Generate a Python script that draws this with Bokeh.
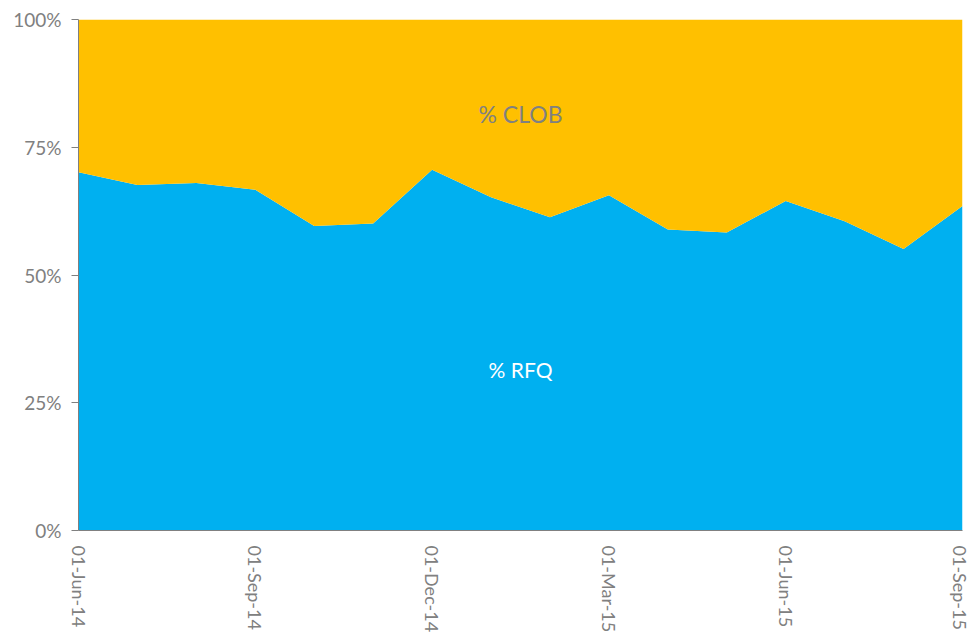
import math
from bokeh.plotting import figure
from bokeh.models import ColumnDataSource, FixedTicker, Range1d, PrintfTickFormatter, Label
from bokeh.embed import file_html
from bokeh.resources import INLINE

months = ["01-Jun-14", "01-Jul-14", "01-Aug-14", "01-Sep-14", "01-Oct-14", "01-Nov-14",
          "01-Dec-14", "01-Jan-15", "01-Feb-15", "01-Mar-15", "01-Apr-15", "01-May-15",
          "01-Jun-15", "01-Jul-15", "01-Aug-15", "01-Sep-15"]
rfq = [70.1, 67.6, 68.0, 66.7, 59.6, 60.1, 70.6, 65.2, 61.3, 65.6, 58.9, 58.3, 64.5, 60.5, 55.1, 63.5]
clob = [round(100 - v, 1) for v in rfq]
tick_labels = ["01-Jun-14", "01-Sep-14", "01-Dec-14", "01-Mar-15", "01-Jun-15", "01-Sep-15"]
y_ticks = [0, 25, 50, 75, 100]

idx = list(range(len(months)))
source = ColumnDataSource(dict(x=idx, rfq=rfq, clob=clob))

FONT = "Lato"
GRAY = "#808080"

p = figure(width=970, height=635, output_backend="svg", toolbar_location=None,
           x_range=Range1d(0, len(months) - 1), y_range=Range1d(0, 100),
           min_border_left=78, min_border_right=8, min_border_top=19, min_border_bottom=105)
p.outline_line_color = None
p.xgrid.grid_line_color = None
p.ygrid.grid_line_color = None
p.background_fill_color = "white"
p.border_fill_color = "white"

p.varea_stack(["rfq", "clob"], x="x", source=source, color=["#00B0F0", "#FFC000"])

tick_pos = [months.index(t) for t in tick_labels]
p.xaxis.ticker = FixedTicker(ticks=tick_pos)
p.xaxis.major_label_overrides = {i: t for i, t in zip(tick_pos, tick_labels)}
p.xaxis.major_label_orientation = -math.pi / 2
p.xaxis.major_tick_line_color = None
p.xaxis.minor_tick_line_color = None
p.xaxis.axis_line_color = GRAY
p.xaxis.major_label_text_color = GRAY
p.xaxis.major_label_text_font = FONT
p.xaxis.major_label_text_font_size = "18px"
p.xaxis.major_label_standoff = 9

p.yaxis.ticker = FixedTicker(ticks=y_ticks)
p.yaxis.formatter = PrintfTickFormatter(format="%d%%")
p.yaxis.major_tick_in = 0
p.yaxis.major_tick_out = 7
p.yaxis.minor_tick_line_color = None
p.yaxis.axis_line_color = GRAY
p.yaxis.major_tick_line_color = GRAY
p.yaxis.major_label_text_color = GRAY
p.yaxis.major_label_text_font = FONT
p.yaxis.major_label_text_font_size = "19px"
p.yaxis.major_label_standoff = 10

p.add_layout(Label(x=7.5, y=81.6, text="% CLOB", text_color=GRAY, text_font=FONT,
                   text_font_size="23px", text_align="center", text_baseline="middle"))
p.add_layout(Label(x=7.5, y=31.5, text="% RFQ", text_color="white", text_font=FONT,
                   text_font_size="21px", text_align="center", text_baseline="middle"))

open("out.html", "w").write(file_html(p, INLINE))
